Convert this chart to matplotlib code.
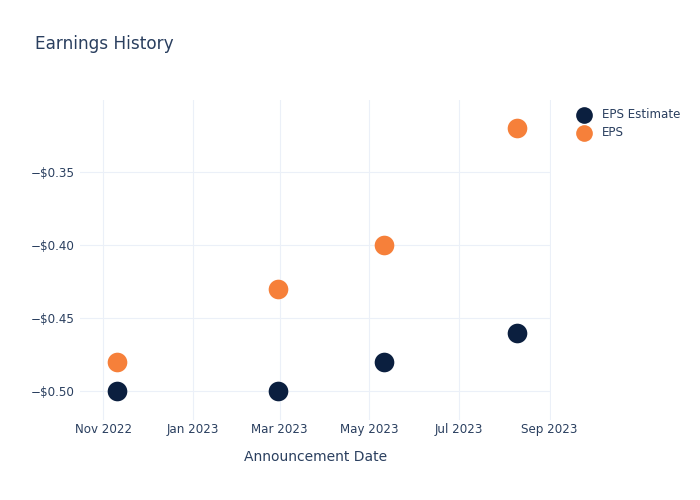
import datetime as dt

import matplotlib
matplotlib.use("Agg")
import matplotlib.pyplot as plt
import matplotlib.dates as mdates
from matplotlib.ticker import FuncFormatter

# announcement dates and values
dates = [
    dt.date(2022, 11, 10),
    dt.date(2023, 2, 28),
    dt.date(2023, 5, 11),
    dt.date(2023, 8, 10),
]
eps_estimate = [-0.50, -0.50, -0.48, -0.46]
eps_actual = [-0.48, -0.43, -0.40, -0.32]

TEXT = "#2a3f5f"
GRID = "#ebf0f8"
NAVY = "#0b1f3f"
ORANGE = "#f6803a"


def money(value, pos):
    sign = "\u2212" if value < 0 else ""
    return f"{sign}${abs(value):.2f}"


def main():
    fig = plt.figure(figsize=(7, 5), dpi=100)
    ax = fig.add_axes([80 / 700, 80 / 500, 471 / 700, 320 / 500])

    ax.scatter(dates, eps_estimate, s=200, color=NAVY, label="EPS Estimate", zorder=3, linewidths=0)
    ax.scatter(dates, eps_actual, s=200, color=ORANGE, label="EPS", zorder=3, linewidths=0)

    ax.set_xlim(dt.date(2022, 10, 16), dt.date(2023, 9, 2))
    ax.set_ylim(-0.5199, -0.3007)
    ax.xaxis.set_major_locator(mdates.MonthLocator(bymonth=[1, 3, 5, 7, 9, 11]))
    ax.xaxis.set_major_formatter(mdates.DateFormatter("%b %Y"))
    ax.set_yticks([-0.50, -0.45, -0.40, -0.35])
    ax.yaxis.set_major_formatter(FuncFormatter(money))

    ax.grid(True, color=GRID, linewidth=0.8)
    ax.set_axisbelow(True)
    for spine in ax.spines.values():
        spine.set_visible(False)
    ax.tick_params(length=0, labelsize=8.6, colors=TEXT)
    ax.tick_params(axis="x", pad=2)
    ax.tick_params(axis="y", pad=4)

    ax.set_xlabel("Announcement Date", fontsize=10, color=TEXT, labelpad=10)
    fig.text(35 / 700, 1 - 44 / 500, "Earnings History", fontsize=12.2, color=TEXT, va="center")

    ax.legend(
        loc="upper left",
        bbox_to_anchor=(1.035, 0.99),
        frameon=False,
        fontsize=8.6,
        labelcolor=TEXT,
        markerscale=0.85,
        handletextpad=0.5,
        labelspacing=0.45,
        borderaxespad=0,
    )

    fig.savefig("out.png", dpi=100)
    plt.close(fig)


if __name__ == "__main__":
    main()
